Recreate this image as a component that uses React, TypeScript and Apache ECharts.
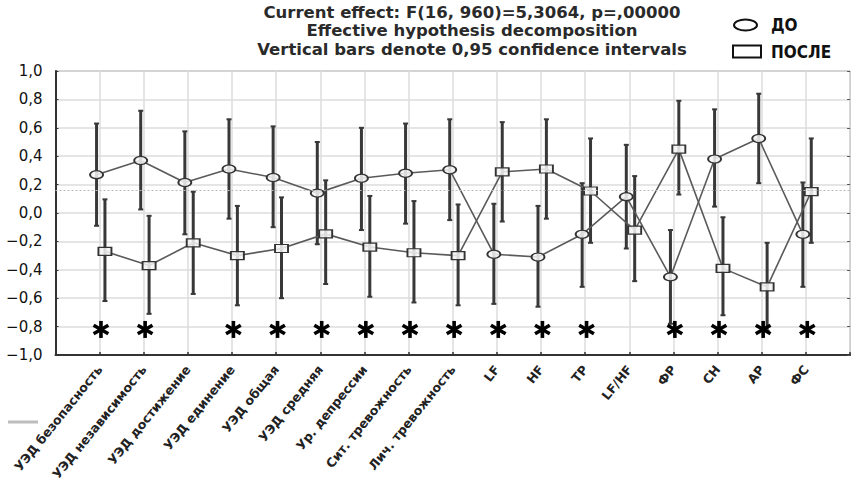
import React, { useEffect, useRef } from "react";
import * as echarts from "echarts";

const categories = [
  "УЭД безопасность",
  "УЭД независимость",
  "УЭД достижение",
  "УЭД единение",
  "УЭД общая",
  "УЭД средняя",
  "Ур. депрессии",
  "Сит. тревожность",
  "Лич. тревожность",
  "LF",
  "HF",
  "TP",
  "LF/HF",
  "ФР",
  "СН",
  "АР",
  "ФС",
];

const beforeMean = [0.27, 0.37, 0.215, 0.31, 0.25, 0.14, 0.245, 0.28, 0.305, -0.29, -0.31, -0.15, 0.115, -0.45, 0.38, 0.525, -0.15];
const beforeLow = [-0.09, 0.025, -0.15, -0.04, -0.1, -0.22, -0.12, -0.075, -0.05, -0.64, -0.66, -0.52, -0.25, -0.78, 0.045, 0.21, -0.52];
const beforeHigh = [0.63, 0.72, 0.575, 0.66, 0.61, 0.5, 0.6, 0.63, 0.66, 0.065, 0.05, 0.21, 0.48, -0.12, 0.73, 0.84, 0.215];

const afterMean = [-0.27, -0.37, -0.21, -0.3, -0.25, -0.147, -0.24, -0.28, -0.3, 0.29, 0.31, 0.155, -0.12, 0.45, -0.39, -0.52, 0.15];
const afterLow = [-0.62, -0.71, -0.57, -0.65, -0.6, -0.5, -0.59, -0.63, -0.65, -0.06, -0.04, -0.21, -0.48, 0.13, -0.72, -0.83, -0.21];
const afterHigh = [0.096, -0.02, 0.15, 0.05, 0.11, 0.23, 0.12, 0.084, 0.06, 0.64, 0.66, 0.525, 0.26, 0.79, -0.03, -0.21, 0.525];

const significant = [1, 1, 0, 1, 1, 1, 1, 1, 1, 1, 1, 1, 0, 1, 1, 1, 1];
const starLevel = -0.82;
const grandMean = 0.16;

const titleLines = [
  "Current effect: F(16, 960)=5,3064, p=,00000",
  "Effective hypothesis decomposition",
  "Vertical bars denote 0,95 confidence intervals",
];
const legendNames = ["ДО", "ПОСЛЕ"];

const offBefore = -0.07;
const offAfter = 0.12;

function fmtY(v: number) {
  if (Math.abs(v) < 1e-9) return "0,0";
  const s = v.toFixed(1).replace(".", ",");
  return s.replace("-", "\u2212");
}

function errorBarRender(params: any, api: any) {
  const x = api.value(0);
  const lo = api.coord([x, api.value(1)]);
  const hi = api.coord([x, api.value(2)]);
  const style = { stroke: "#383838", lineWidth: 3 };
  return {
    type: "group",
    children: [
      { type: "line", shape: { x1: lo[0], y1: lo[1], x2: hi[0], y2: hi[1] }, style },
      { type: "line", shape: { x1: lo[0] - 2.5, y1: lo[1], x2: lo[0] + 2.5, y2: lo[1] }, style: { stroke: "#383838", lineWidth: 2 } },
      { type: "line", shape: { x1: hi[0] - 2.5, y1: hi[1], x2: hi[0] + 2.5, y2: hi[1] }, style: { stroke: "#383838", lineWidth: 2 } },
    ],
  };
}

function starRender(params: any, api: any) {
  const c = api.coord([api.value(0), api.value(1)]);
  const r = 8.5;
  const children: any[] = [];
  [90, 30, 150].forEach((deg) => {
    const a = (deg * Math.PI) / 180;
    children.push({
      type: "line",
      shape: {
        x1: c[0] - r * Math.cos(a),
        y1: c[1] - r * Math.sin(a),
        x2: c[0] + r * Math.cos(a),
        y2: c[1] + r * Math.sin(a),
      },
      style: { stroke: "#000", lineWidth: 3.6 },
    });
  });
  return { type: "group", children };
}

export default function App() {
  const ref = useRef<HTMLDivElement>(null);

  useEffect(() => {
    if (!ref.current) return;
    const chart = echarts.init(ref.current, null, { renderer: "svg" });

    const barsBefore = categories.map((_, i) => [i + 1 + offBefore, beforeLow[i], beforeHigh[i]]);
    const barsAfter = categories.map((_, i) => [i + 1 + offAfter, afterLow[i], afterHigh[i]]);
    const lineBefore = categories.map((_, i) => [i + 1 + offBefore, beforeMean[i]]);
    const lineAfter = categories.map((_, i) => [i + 1 + offAfter, afterMean[i]]);
    const stars = categories
      .map((_, i) => (significant[i] ? [i + 1 + 0.03, starLevel] : null))
      .filter((d) => d !== null);

    const option: any = {
      animation: false,
      backgroundColor: "#ffffff",
      grid: {
        left: 55.5,
        top: 71,
        width: 798.75,
        height: 284,
        show: true,
        borderColor: "#777",
        borderWidth: 1,
      },
      xAxis: {
        type: "value",
        min: 0,
        max: 18,
        interval: 1,
        axisLine: { show: true, onZero: false, lineStyle: { color: "#333", width: 2 } },
        axisTick: { show: true, inside: true, length: 3, lineStyle: { color: "#333", width: 1.5 } },
        splitLine: { show: true, lineStyle: { color: "#dcdcdc", width: 1.5 } },
        axisLabel: {
          formatter: (v: number) => categories[Math.round(v) - 1] ?? "",
          rotate: 51,
          margin: 12,
          fontFamily: "DejaVu Sans",
          fontWeight: "bold",
          fontSize: 12.5,
          color: "#222",
          showMinLabel: true,
          showMaxLabel: true,
        },
      },
      yAxis: [
        {
          type: "value",
          min: -1,
          max: 1,
          interval: 0.2,
          axisLine: { show: true, lineStyle: { color: "#333", width: 2 } },
          axisTick: { show: true, inside: true, length: 3, lineStyle: { color: "#333" } },
          splitLine: { show: true, lineStyle: { color: "#dcdcdc", width: 1.5 } },
          axisLabel: {
            formatter: fmtY,
            margin: 13,
            fontFamily: "DejaVu Sans",
            fontSize: 15,
            color: "#111",
          },
        },
        {
          type: "value",
          position: "right",
          min: -1,
          max: 1,
          interval: 0.2,
          axisLine: { show: false },
          axisTick: { show: true, inside: true, length: 3, lineStyle: { color: "#555" } },
          splitLine: { show: false },
          axisLabel: { show: false },
        },
      ],
      graphic: [
        {
          type: "text",
          x: 472,
          y: 3,
          style: {
            text: titleLines.join("\n"),
            textAlign: "center",
            fontFamily: "DejaVu Sans",
            fontWeight: "bold",
            fontSize: 16.5,
            lineHeight: 18.5,
            fill: "#2a2a2a",
          },
        },
        {
          type: "ellipse",
          shape: { cx: 745.5, cy: 25, rx: 11.5, ry: 5.5 },
          style: { fill: "#fff", stroke: "#111", lineWidth: 2 },
        },
        {
          type: "text",
          x: 771,
          y: 25,
          style: {
            text: legendNames[0],
            textVerticalAlign: "middle",
            fontFamily: "'Liberation Sans Narrow', 'DejaVu Sans Condensed', sans-serif",
            fontWeight: "bold",
            fontSize: 17,
            fill: "#111",
          },
        },
        {
          type: "rect",
          shape: { x: 733, y: 45.5, width: 28, height: 12 },
          style: { fill: "#fff", stroke: "#111", lineWidth: 2 },
        },
        {
          type: "text",
          x: 771,
          y: 52,
          style: {
            text: legendNames[1],
            textVerticalAlign: "middle",
            fontFamily: "'Liberation Sans Narrow', 'DejaVu Sans Condensed', sans-serif",
            fontWeight: "bold",
            fontSize: 17,
            fill: "#111",
          },
        },
        {
          type: "line",
          shape: { x1: 8, y1: 422, x2: 38, y2: 422 },
          style: { stroke: "#bdbdbd", lineWidth: 3 },
        },
      ],
      series: [
        {
          name: "ДО bars",
          type: "custom",
          renderItem: errorBarRender,
          data: barsBefore,
          encode: { x: 0, y: [1, 2] },
          z: 2,
          silent: true,
        },
        {
          name: "ПОСЛЕ bars",
          type: "custom",
          renderItem: errorBarRender,
          data: barsAfter,
          encode: { x: 0, y: [1, 2] },
          z: 2,
          silent: true,
        },
        {
          name: legendNames[0],
          type: "line",
          data: lineBefore,
          symbol: "circle",
          symbolSize: [13, 8],
          showAllSymbol: true,
          lineStyle: { color: "#5a5a5a", width: 1.6 },
          itemStyle: { color: "rgba(245,245,245,0.85)", borderColor: "#333", borderWidth: 1.5 },
          z: 3,
          markLine: {
            silent: true,
            symbol: "none",
            label: { show: false },
            lineStyle: { color: "#bbbbbb", type: [2, 2], width: 1 },
            data: [{ yAxis: grandMean }],
          },
        },
        {
          name: legendNames[1],
          type: "line",
          data: lineAfter,
          symbol: "rect",
          symbolSize: [13, 8],
          showAllSymbol: true,
          lineStyle: { color: "#5a5a5a", width: 1.6 },
          itemStyle: { color: "rgba(245,245,245,0.85)", borderColor: "#333", borderWidth: 1.5 },
          z: 3,
        },
        {
          name: "significance",
          type: "custom",
          renderItem: starRender,
          data: stars,
          encode: { x: 0, y: 1 },
          z: 4,
          silent: true,
        },
      ],
    };

    chart.setOption(option);
    return () => chart.dispose();
  }, []);

  return (
    <div
      ref={ref}
      style={{ position: "fixed", left: 0, top: 0, width: 852, height: 496, background: "#fff" }}
    />
  );
}
